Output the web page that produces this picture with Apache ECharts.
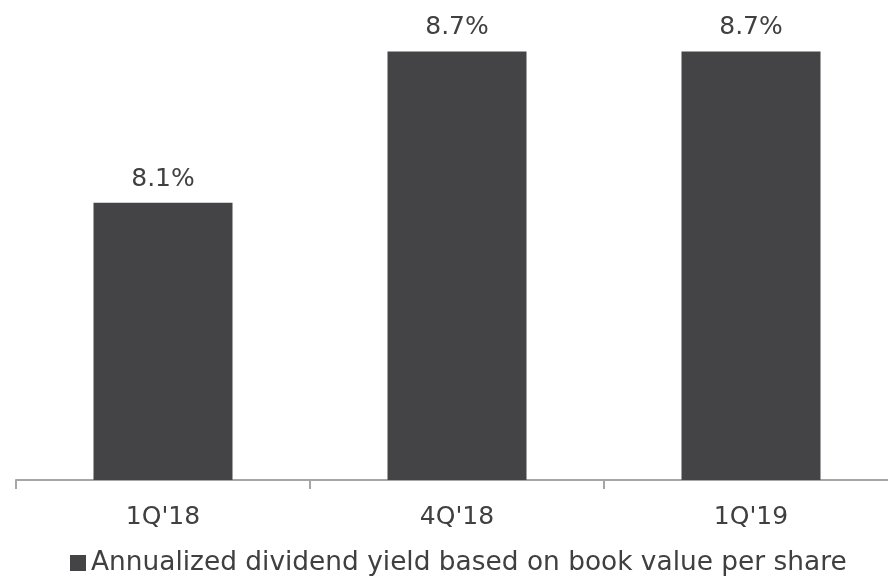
<!DOCTYPE html>
<html>
<head>
<meta charset="utf-8">
<script src="https://cdn.jsdelivr.net/npm/echarts@6/dist/echarts.min.js"></script>
<style>
  html, body { margin: 0; padding: 0; background: #ffffff; overflow: hidden; }
  #chart { width: 888px; height: 578px; }
</style>
</head>
<body>
<div id="chart"></div>
<script>
// Quarter labels and annualized dividend yield (%) per quarter
const quarters = ["1Q'18", "4Q'18", "1Q'19"];
const yieldPct = [8.1, 8.7, 8.7];
const seriesName = 'Annualized dividend yield based on book value per share';

const FONT = '"DejaVu Sans", Verdana, sans-serif';
const TEXT = '#404040';
const BAR = '#444446';

const chart = echarts.init(document.getElementById('chart'), null, { renderer: 'canvas' });

chart.setOption({
  animation: false,
  backgroundColor: '#ffffff',
  // plot area runs past the right edge so the last category boundary is clipped
  grid: {
    left: 16, width: 882, top: 1, bottom: 98,
    containLabel: false,
    outerBoundsMode: 'none'
  },
  legend: {
    data: [seriesName],
    left: 65,
    top: 545,
    itemWidth: 16,
    itemHeight: 16,
    icon: 'rect',
    textStyle: { color: TEXT, fontFamily: FONT, fontSize: 26.4 }
  },
  xAxis: {
    type: 'category',
    data: quarters,
    axisLine: { lineStyle: { color: '#a6a6a6', width: 2 } },
    axisTick: { show: true, length: 9, lineStyle: { color: '#a6a6a6', width: 2 } },
    axisLabel: { color: TEXT, fontFamily: FONT, fontSize: 25, margin: 25 }
  },
  yAxis: {
    type: 'value',
    min: 7,
    max: 8.9,
    show: false,
    splitLine: { show: false }
  },
  series: [{
    name: seriesName,
    type: 'bar',
    data: yieldPct,
    barWidth: 139,
    itemStyle: { color: BAR },
    label: {
      show: true,
      position: 'top',
      distance: 11,
      color: TEXT,
      fontFamily: FONT,
      fontSize: 25,
      formatter: p => p.value.toFixed(1) + '%'
    }
  }]
});
</script>
</body>
</html>
